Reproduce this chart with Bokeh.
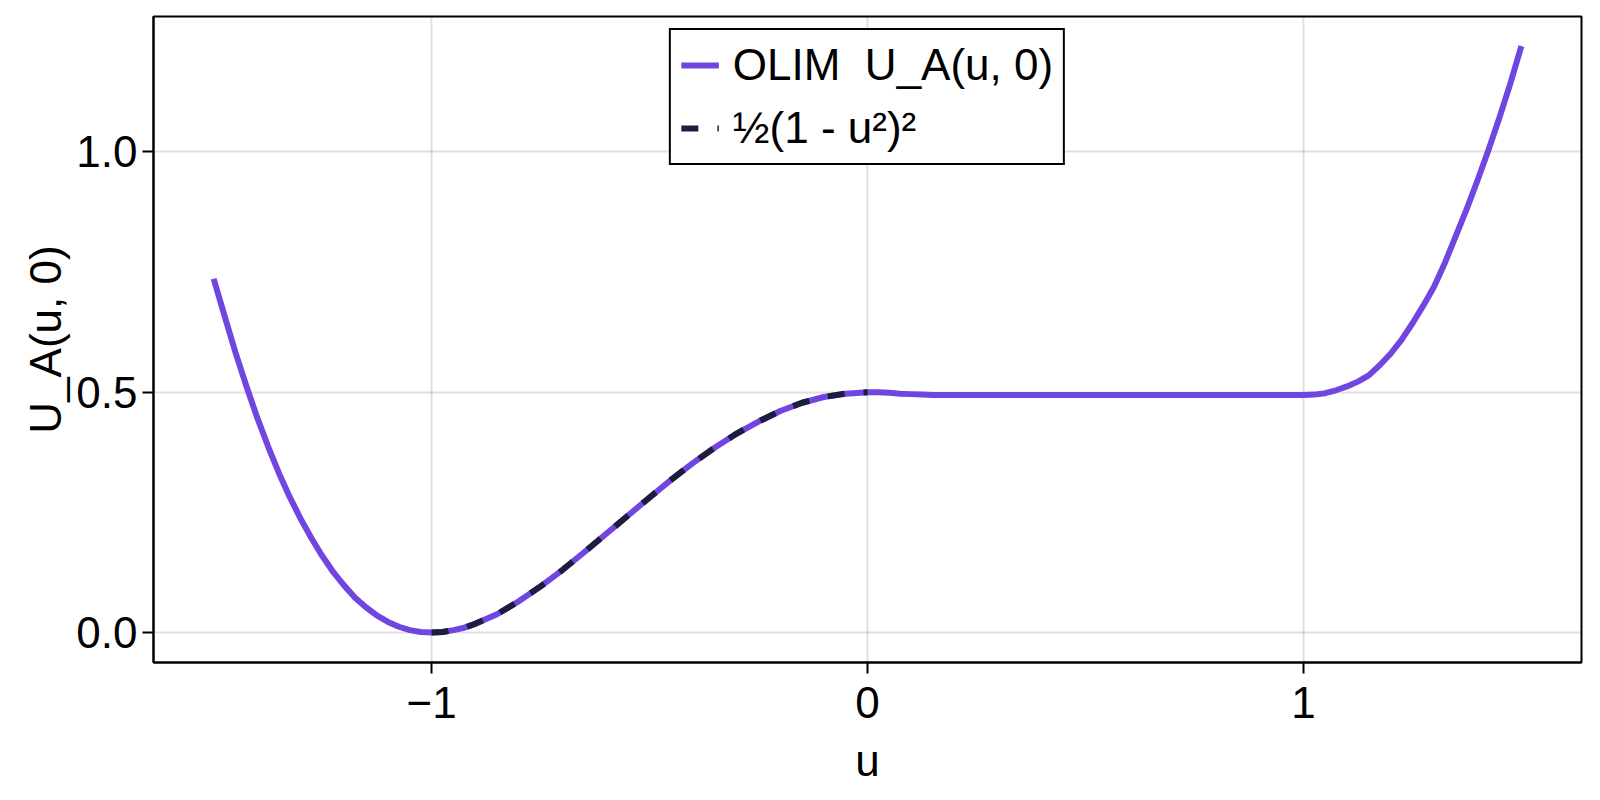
from bokeh.plotting import figure
from bokeh.models import FixedTicker, Legend, LegendItem
from bokeh.embed import file_html
from bokeh.resources import INLINE

# OLIM solution U_A(u, 0)
u_olim = [-1.500, -1.475, -1.450, -1.425, -1.400, -1.375, -1.350, -1.325, -1.300, -1.275,
          -1.250, -1.225, -1.200, -1.175, -1.150, -1.125, -1.100, -1.075, -1.050, -1.025,
          -1.000, -0.975, -0.950, -0.925, -0.900, -0.850, -0.800, -0.750, -0.700, -0.650,
          -0.600, -0.550, -0.500, -0.450, -0.400, -0.350, -0.300, -0.250, -0.200, -0.150,
          -0.100, -0.050, 0.000, 0.025, 0.050, 0.075, 0.100, 0.125, 0.150, 0.400,
          0.700, 1.000, 1.025, 1.050, 1.075, 1.100, 1.125, 1.150, 1.175, 1.200,
          1.225, 1.250, 1.275, 1.300, 1.325, 1.350, 1.375, 1.400, 1.425, 1.450,
          1.475, 1.500]
v_olim = [0.736, 0.659, 0.583, 0.513, 0.447, 0.387, 0.331, 0.281, 0.236, 0.195,
          0.158, 0.125, 0.097, 0.072, 0.052, 0.035, 0.022, 0.012, 0.005, 0.001,
          0.000, 0.001, 0.005, 0.010, 0.018, 0.038, 0.065, 0.096, 0.130, 0.167,
          0.205, 0.243, 0.281, 0.318, 0.353, 0.385, 0.414, 0.439, 0.461, 0.478,
          0.490, 0.497, 0.500, 0.500, 0.499, 0.497, 0.496, 0.495, 0.494, 0.494,
          0.494, 0.494, 0.495, 0.498, 0.504, 0.512, 0.522, 0.535, 0.556, 0.580,
          0.609, 0.643, 0.680, 0.720, 0.770, 0.826, 0.882, 0.942, 1.005, 1.072,
          1.143, 1.220]

# reference curve 1/2 (1 - u^2)^2 on [-1, 0]
u_ref = [-1.000, -0.975, -0.950, -0.925, -0.900, -0.850, -0.800, -0.750, -0.700, -0.650,
         -0.600, -0.550, -0.500, -0.450, -0.400, -0.350, -0.300, -0.250, -0.200, -0.150,
         -0.100, -0.050, 0.000]
v_ref = [0.000, 0.001, 0.005, 0.010, 0.018, 0.038, 0.065, 0.096, 0.130, 0.167,
         0.205, 0.243, 0.281, 0.318, 0.353, 0.385, 0.414, 0.439, 0.461, 0.478,
         0.490, 0.497, 0.500]

x_ticks = [-1, 0, 1]
x_tick_labels = ["−1", "0", "1"]
y_ticks = [0.0, 0.5, 1.0]
y_tick_labels = ["0.0", "0.5", "1.0"]

legend_labels = ["OLIM  U_A(u, 0)", "½(1 - u²)²"]
x_label = "u"
y_label = "U_A(u, 0)"

PURPLE = "#7146e0"
NAVY = "#1b1e3c"
FONT = "Liberation Sans"
FS = "44px"

p = figure(frame_width=1428, frame_height=646,
           x_range=(-1.638, 1.638), y_range=(-0.0624, 1.2817),
           output_backend="svg", toolbar_location=None,
           min_border_left=153, min_border_right=8, min_border_top=16,
           min_border_bottom=120, background_fill_color="white",
           border_fill_color="white")

r1 = p.line(u_olim, v_olim, line_color=PURPLE, line_width=6,
            line_join="round")
r2 = p.line(u_ref, v_ref, line_color=NAVY, line_width=6, line_dash="17 19")

p.outline_line_color = "black"
p.outline_line_width = 2
p.outline_line_alpha = 1.0

for ax in (p.xaxis[0], p.yaxis[0]):
    ax.axis_line_color = "black"
    ax.axis_line_width = 2
    ax.major_tick_line_color = "black"
    ax.major_tick_line_width = 2
    ax.major_tick_out = 11
    ax.major_tick_in = 0
    ax.minor_tick_line_color = None
    ax.major_label_text_font = FONT
    ax.major_label_text_font_size = FS
    ax.major_label_text_color = "black"
    ax.axis_label_text_font = FONT
    ax.axis_label_text_font_size = FS
    ax.axis_label_text_font_style = "normal"
    ax.axis_label_text_color = "black"

p.xaxis.ticker = FixedTicker(ticks=x_ticks)
p.xaxis.major_label_overrides = dict(zip(x_ticks, x_tick_labels))
p.yaxis.ticker = FixedTicker(ticks=y_ticks)
p.yaxis.major_label_overrides = dict(zip(y_ticks, y_tick_labels))
p.xaxis.axis_label = x_label
p.yaxis.axis_label = y_label
p.xaxis.major_label_standoff = 13
p.xaxis.axis_label_standoff = 15
p.yaxis.major_label_standoff = 5
p.yaxis.axis_label_standoff = 3

p.xgrid.ticker = FixedTicker(ticks=x_ticks)
p.ygrid.ticker = FixedTicker(ticks=y_ticks)
for g in (p.xgrid[0], p.ygrid[0]):
    g.grid_line_color = "black"
    g.grid_line_alpha = 0.12
    g.grid_line_width = 2

legend = Legend(items=[LegendItem(label=legend_labels[0], renderers=[r1]),
                       LegendItem(label=legend_labels[1], renderers=[r2])],
                location="top_center")
legend.margin = 12
legend.padding = 10
legend.spacing = 13
legend.glyph_width = 38
legend.glyph_height = 20
legend.label_standoff = 14
legend.label_height = 48
legend.label_text_font = FONT
legend.label_text_font_size = FS
legend.label_text_color = "black"
legend.border_line_color = "black"
legend.border_line_alpha = 1.0
legend.border_line_width = 2
legend.background_fill_color = "white"
legend.background_fill_alpha = 1.0
p.add_layout(legend)

with open("out.html", "w") as f:
    f.write(file_html(p, INLINE))
